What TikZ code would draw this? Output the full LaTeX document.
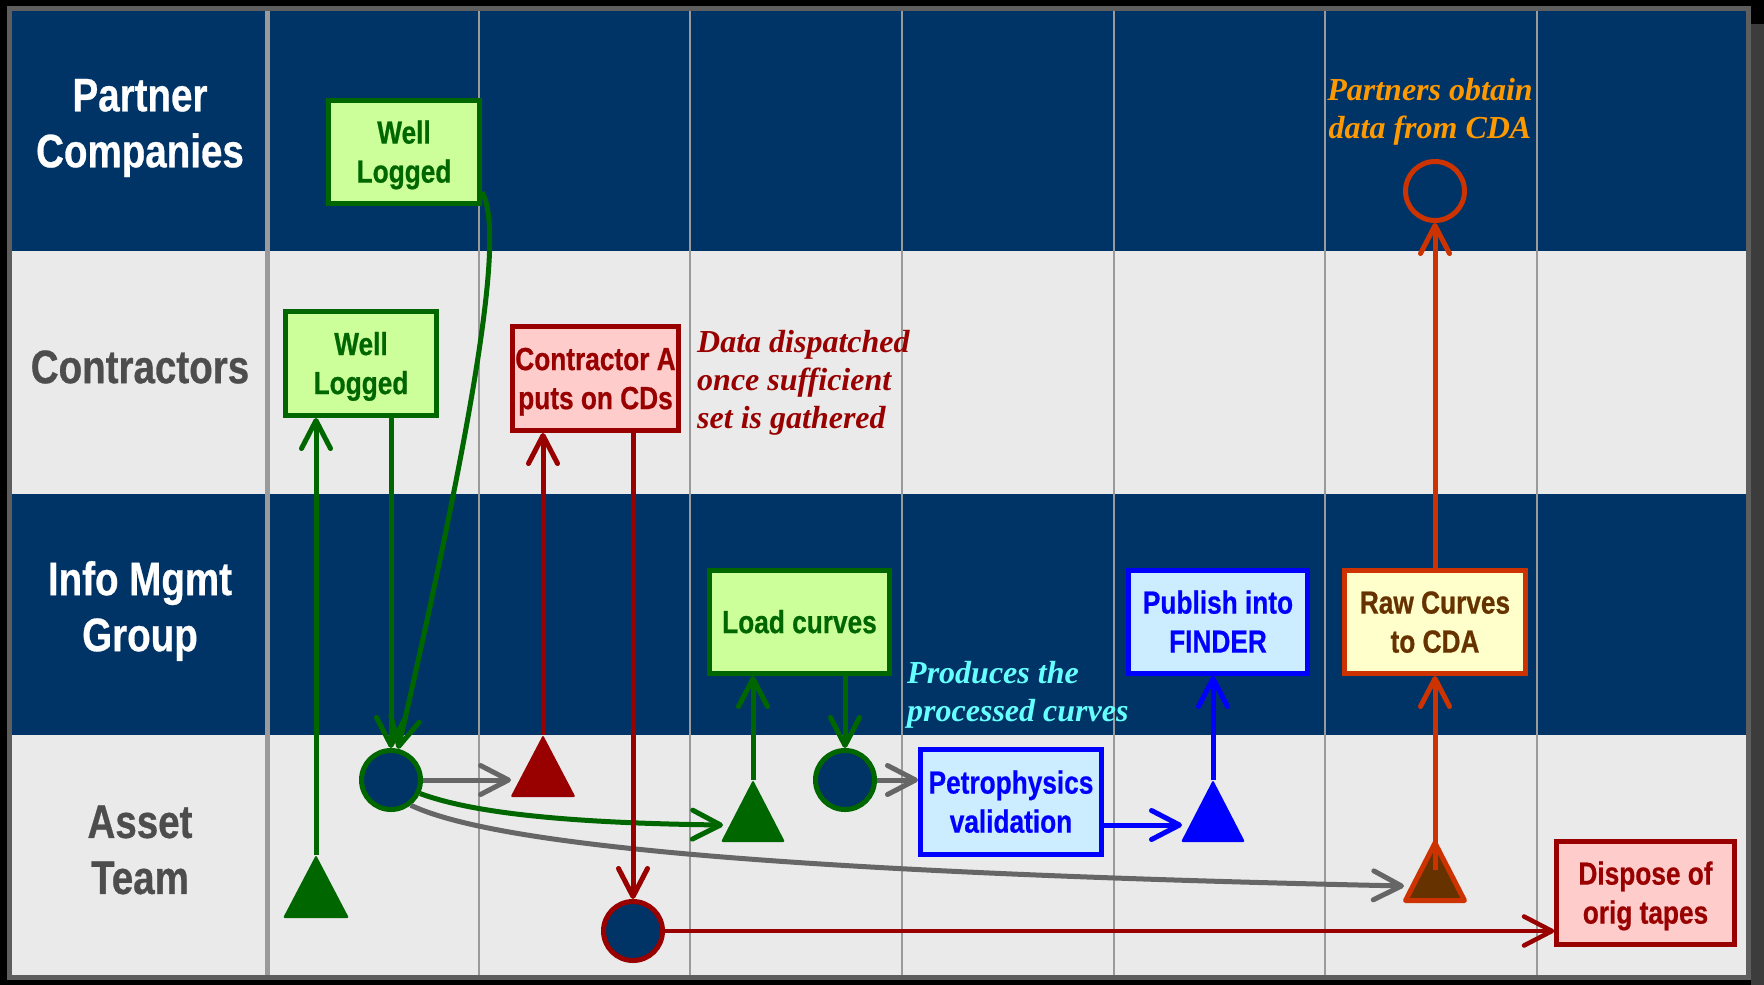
\documentclass[tikz,border=0pt]{standalone}
\usepackage{fontspec}
\setmainfont{Liberation Sans}
\newfontfamily\narrowsans[FakeStretch=0.82, BoldFeatures={FakeBold=0.6}]{Liberation Sans}
\newfontfamily\noteserif{Liberation Serif}
\usetikzlibrary{arrows.meta,calc}

% line box for box captions: fixed ascent/descent so every caption centres alike
\newcommand\lnup{\rule[-6.8pt]{0pt}{35.8pt}}

\definecolor{navy}{HTML}{003366}
\definecolor{lanegray}{HTML}{EAEAEA}
\definecolor{gridgray}{HTML}{9A9A9A}
\definecolor{framegray}{HTML}{5E5E5E}
\definecolor{sidegray}{HTML}{3C3C3C}
\definecolor{labelgray}{HTML}{4D4D4D}
\definecolor{dkgreen}{HTML}{006600}
\definecolor{ltgreen}{HTML}{CCFF99}
\definecolor{dkred}{HTML}{990000}
\definecolor{ltred}{HTML}{FFCCCC}
\definecolor{pureblue}{HTML}{0000FF}
\definecolor{ltblue}{HTML}{CCECFF}
\definecolor{rust}{HTML}{CC3300}
\definecolor{ltyellow}{HTML}{FFFFCC}
\definecolor{darkbrown}{HTML}{663300}
\definecolor{flowgray}{HTML}{666666}
\definecolor{cyannote}{HTML}{66FFFF}
\definecolor{orangenote}{HTML}{FF9900}

\tikzset{
  lanelabel/.style={font={\narrowsans\bfseries\fontsize{47}{56}\selectfont}, align=center, inner sep=0pt},
  stepbox/.style={draw, line width=5pt, font={\narrowsans\bfseries\fontsize{32}{39}\selectfont}, align=center, inner sep=0pt},
  greenbox/.style={stepbox, draw=dkgreen, fill=ltgreen, text=dkgreen},
  redbox/.style={stepbox, draw=dkred, fill=ltred, text=dkred},
  bluebox/.style={stepbox, draw=pureblue, fill=ltblue, text=pureblue},
  cdabox/.style={stepbox, draw=rust, fill=ltyellow, text=darkbrown},
  hub/.style={circle, draw, line width=5pt, fill=navy, minimum size=59pt, inner sep=0pt},
  annot/.style={font={\noteserif\bfseries\itshape\fontsize{32}{38}\selectfont}, inner sep=0pt},
  flow/.style={line width=5pt, -{Straight Barb[length=28pt,width=29pt,round]}},
  flagtri/.style={rounded corners=2pt},
}

\begin{document}
\begin{tikzpicture}[x=1pt, y=-1pt]
\useasboundingbox (0,0) rectangle (1764,985);

% outer frame
\fill[black] (0,0) rectangle (1764,985);
\fill[framegray] (7,6) rectangle (1751,980);
\fill[sidegray] (1751,24) rectangle (1764,985);

% swim lanes
\fill[navy]     (12,11)  rectangle (1746,251);
\fill[lanegray] (12,251) rectangle (1746,494);
\fill[navy]     (12,494) rectangle (1746,735);
\fill[lanegray] (12,735) rectangle (1746,975);

% column rules
\draw[gridgray, line width=5pt] (267,11) -- (267,975);
\foreach \cx in {479,690,902,1114,1325,1537}
  \draw[gridgray, line width=2pt] (\cx,11) -- (\cx,975);

% lane titles
\node[lanelabel, text=white]     (lblPartner) at (140,128) {Partner\\Companies};
\node[lanelabel, text=labelgray] (lblContr)   at (140,367) {Contractors};
\node[lanelabel, text=white]     (lblInfo)    at (140,611) {Info Mgmt\\Group};
\node[lanelabel, text=labelgray] (lblAsset)   at (140,850) {Asset\\Team};

% milestone markers (apex points)
\coordinate (tGa) at (316,855);
\coordinate (tRa) at (543,735);
\coordinate (tGb) at (753,780);
\coordinate (tBa) at (1213,780);
\coordinate (tOa) at (1435,843);
% entry points on the marker sides
\coordinate (tRin)  at (511,780);
\coordinate (tGbin) at (723,825);
\coordinate (tBin)  at (1182,825);
\coordinate (tOin)  at (1404,886);

\fill[dkgreen, flagtri]  (tGa) -- ++(33,63) -- ++(-66,0) -- cycle;
\fill[dkred, flagtri]    (tRa) -- ++(32.5,62) -- ++(-65,0) -- cycle;
\fill[dkgreen, flagtri]  (tGb) -- ++(32,62) -- ++(-64,0) -- cycle;
\fill[pureblue, flagtri] (tBa) -- ++(32,62) -- ++(-64,0) -- cycle;
\filldraw[fill=darkbrown, draw=rust, line width=5pt, line join=round]
  (tOa) -- ++(29.5,57.5) -- ++(-59,0) -- cycle;

% process boxes
\node[greenbox, minimum width=151pt, minimum height=103pt] (wl1) at (404,152) {\lnup Well\\Logged\lnup};
\node[greenbox, minimum width=151pt, minimum height=104pt] (wl2) at (361,363.5) {\lnup Well\\Logged\lnup};
\node[redbox, minimum width=166pt, minimum height=104pt] (cA) at (595.5,378.5) {\lnup Contractor A\\puts on CDs\lnup};
\node[greenbox, minimum width=180pt, minimum height=103pt] (load) at (799.5,622) {\lnup Load curves};
\node[bluebox, minimum width=181pt, minimum height=105pt] (petro) at (1011,802) {\lnup Petrophysics\\validation\lnup};
\node[bluebox, minimum width=179pt, minimum height=103pt] (publish) at (1218,622) {\lnup Publish into\\FINDER\lnup};
\node[cdabox, minimum width=181pt, minimum height=103pt] (raw) at (1435,622) {\lnup Raw Curves\\to CDA\lnup};
\node[redbox, line width=4.5pt, minimum width=178pt, minimum height=103pt] (dispose) at (1645.5,893) {\lnup Dispose of\\orig tapes\lnup};

% event circles
\node[hub, draw=dkgreen] (c1) at (391,780) {};
\node[hub, draw=dkred]   (c2) at (633,931) {};
\node[hub, draw=dkgreen] (c3) at (845,780) {};
\node[hub, draw=rust]    (c4) at (1435,191) {};

% annotations
\node[annot, text=dkred, anchor=north west, align=left] (noteDispatch) at (697,330)
  {Data dispatched\\once sufficient\\set is gathered};
\node[annot, text=cyannote, anchor=north west, align=left] (noteProduce) at (907,661)
  {Produces the\\processed curves};
\node[annot, text=orangenote, anchor=north, align=center] (notePartner) at (1430,78)
  {Partners obtain\\data from CDA};

% flows
\draw[flow, dkgreen] (tGa) -- (tGa |- wl2.south);
\draw[flow, dkgreen] (wl2.south -| c1) -- (c1);
\draw[flow, dkgreen] ($(wl1.south east)+(0,-14)$) .. controls (500,225) and (492,340) .. (c1);
\draw[flow, flowgray] (c1) -- (tRin);
\draw[flow, dkgreen] (c1.-25) .. controls (470,812) and (560,823) .. (tGbin);
\draw[flow, flowgray] (c1.-52) .. controls (480,838) and (700,871) .. (tOin);
\draw[flow, dkred] (tRa) -- (tRa |- cA.south);
\draw[flow, dkred] (cA.south -| c2) -- (c2);
\draw[flow, dkred, line width=4.5pt] (c2) -- (c2 -| dispose.west);
\draw[flow, dkgreen] (tGb) -- (tGb |- load.south);
\draw[flow, dkgreen] (load.south -| c3) -- (c3);
\draw[flow, flowgray] (c3) -- (c3 -| petro.west);
\draw[flow, pureblue] ($(petro.east)+(0,23)$) -- (tBin);
\draw[flow, pureblue] (tBa) -- (tBa |- publish.south);
\draw[flow, rust] ($(tOa)+(0,27)$) -- (tOa |- raw.south);
\draw[flow, rust] (raw.north) -- (c4);
\end{tikzpicture}
\end{document}
